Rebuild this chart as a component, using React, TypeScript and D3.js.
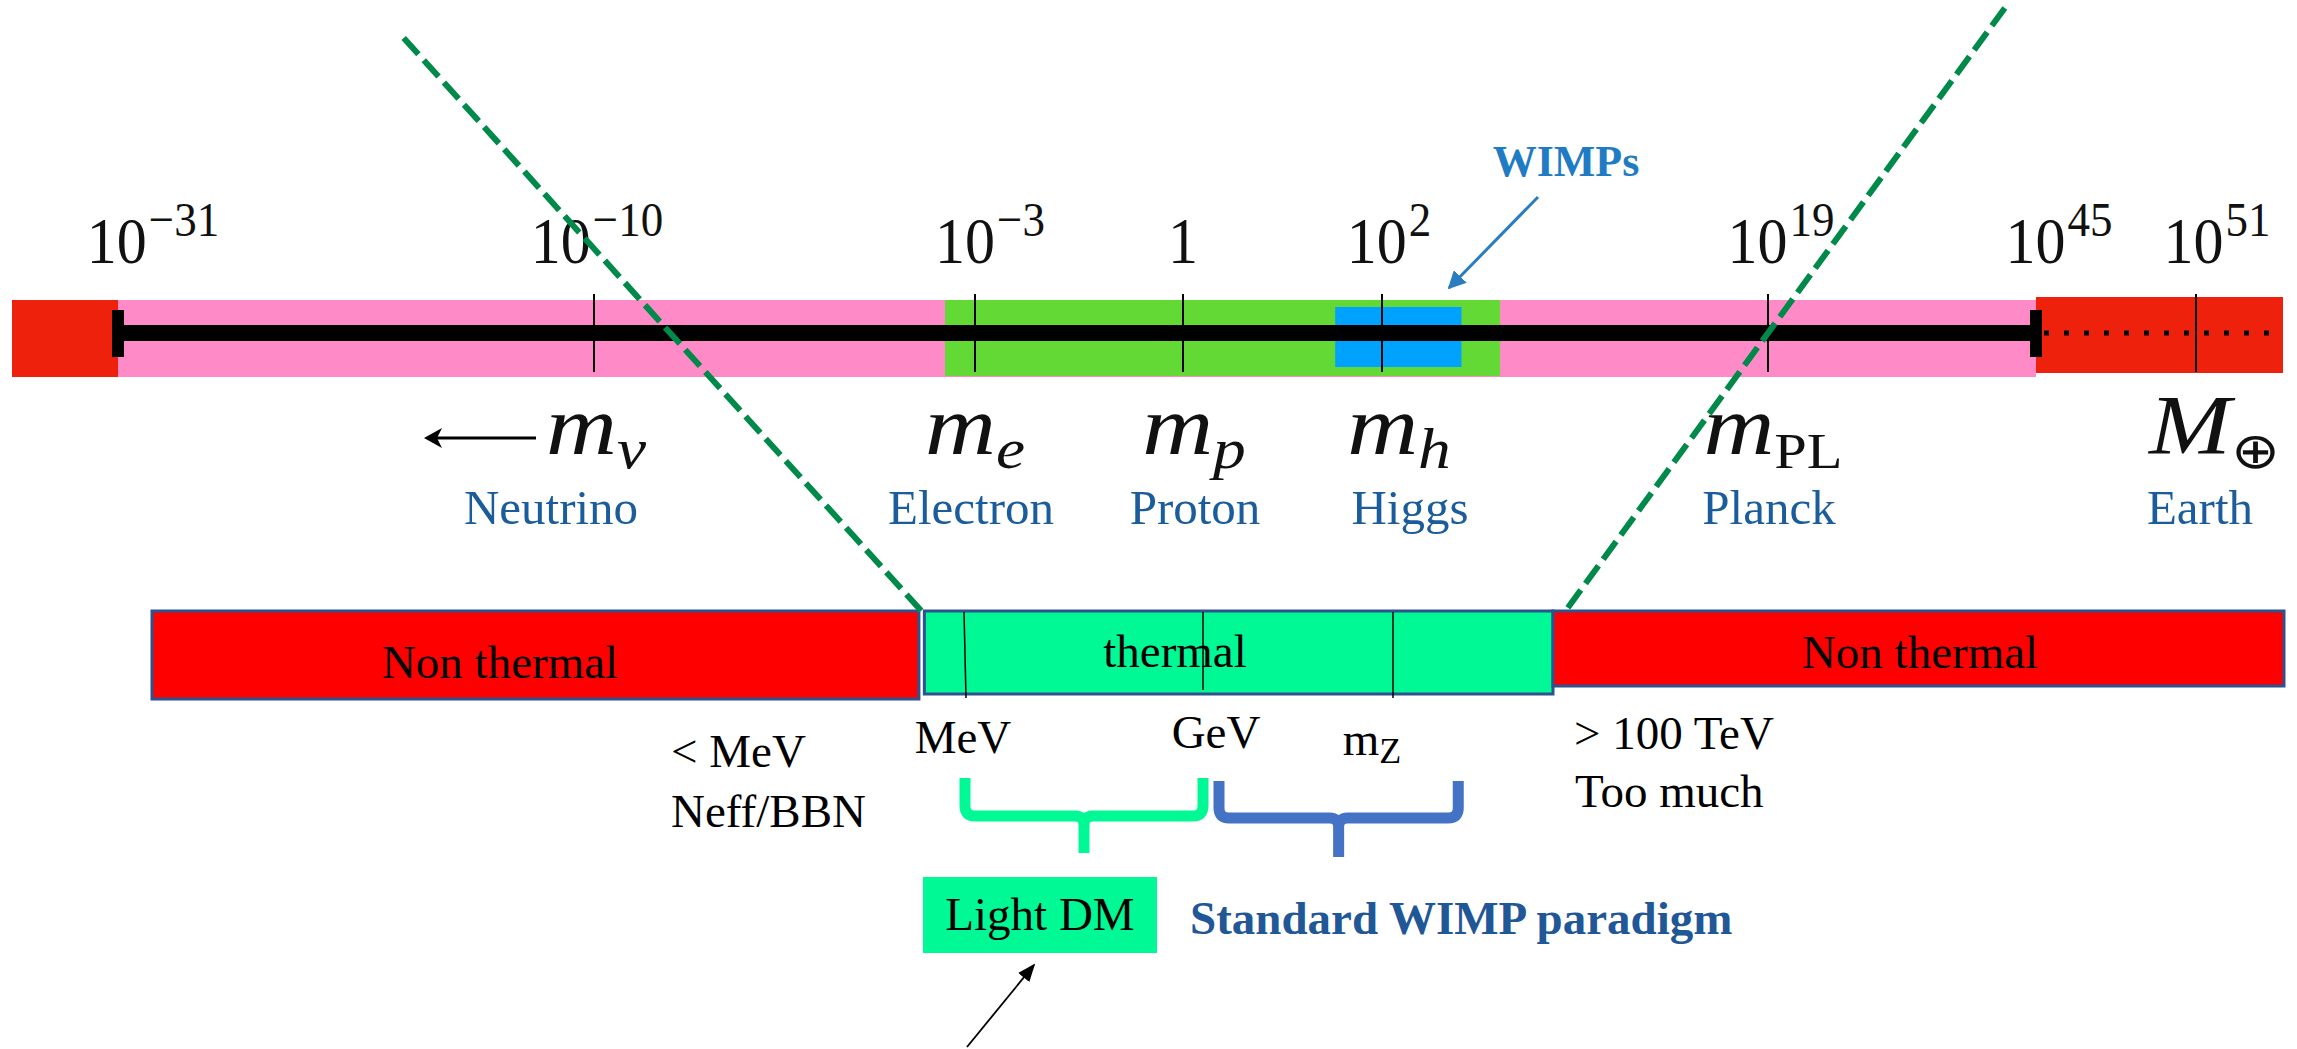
import React from 'react';
import * as d3 from 'd3';

const WIDTH = 2297;
const HEIGHT = 1049;

// ---- Mass line: ticks as powers of ten (GeV) ----
const tickExponents = [-31, -10, -3, 0, 2, 19, 45, 51];
const tickSuperscripts = ['−31', '−10', '−3', '', '2', '19', '45', '51'];
const axisExtent = [-35.7, 54.3];

// Coloured spans along the mass line, [from, to] in exponents
const spanFrom = [-35.7, -31, -3.55, 1.53, 45];
const spanTo = [-31, 45, 7.2, 5.5, 54.3];

// Reference particles
const particleNames = ['Neutrino', 'Electron', 'Proton', 'Higgs', 'Planck', 'Earth'];
const particleSymbols = ['m', 'm', 'm', 'm', 'm', 'M'];
const particleSubscripts = ['ν', 'e', 'p', 'h', 'PL', '⊕'];
const particleExponents = [-10, -3, 0, 2, 19, 51];

// ---- Production regimes (log10 GeV) ----
const regimeLabels = ['Non thermal', 'thermal', 'Non thermal'];
const regimeFrom = [-6, -3.15, 5];
const regimeTo = [-3.17, 5, 10];
const energyMarks = ['MeV', 'GeV', 'm'];
const energyMarkSubs = ['', '', 'Z'];
const energyExponents = [-3, 0, 1.96];
const bracketFrom = [-3, 0.165];
const bracketTo = [0, 3.2];

// ---- layout ----
const TOP_ANCHORS = [12, 118, 594, 975, 1183, 1382, 1768, 2036, 2196, 2283];
const BOTTOM_ANCHORS = [152, 965, 1203, 1393, 1553, 2284];

const topScale = d3
  .scaleLinear()
  .domain([axisExtent[0], ...tickExponents, axisExtent[1]])
  .range(TOP_ANCHORS);
const bottomScale = d3
  .scaleLinear()
  .domain([-6, ...energyExponents, 5, 10])
  .range(BOTTOM_ANCHORS);

const SPAN_STYLE = [
  { fill: '#ee220c', y0: 300, y1: 377 },
  { fill: '#ff8ac8', y0: 300, y1: 377 },
  { fill: '#62d935', y0: 300, y1: 376 },
  { fill: '#00a2ff', y0: 307, y1: 367 },
  { fill: '#ee220c', y0: 297, y1: 373 },
];
const LINE_Y = 333;
const TICK_LABEL_NUDGE = [35, 3, 15, 0, 7, 13, 23, 21];
const PARTICLE_MATH_NUDGE = [2, 0, 11, 17, 5, 18];
const PARTICLE_NAME_NUDGE = [-43, -4, 12, 28, 1, 4];

const REGIME_STYLE = [
  { fill: '#ff0000', y0: 611, y1: 699, labelX: 500, labelY: 678 },
  { fill: '#00f994', y0: 611, y1: 694, labelX: 1175, labelY: 667 },
  { fill: '#ff0000', y0: 611, y1: 686, labelX: 1920, labelY: 668 },
];
const MARK_LINE_END = [698, 690, 698];
const MARK_LABEL_DX = [-2, 13, -21];
const MARK_LABEL_Y = [753, 748, 755];

const SERIF = '"Liberation Serif", "Times New Roman", serif';
const GREEN_DASH = '#008a4a';

function bracePath(x1: number, x2: number, xm: number, yTop: number, yBar: number, yStem: number) {
  const r = 10;
  const r2 = 9;
  return [
    `M${x1},${yTop}`,
    `L${x1},${yBar - r}`,
    `Q${x1},${yBar} ${x1 + r},${yBar}`,
    `L${xm - r2},${yBar}`,
    `Q${xm},${yBar} ${xm},${yBar + r2}`,
    `L${xm},${yStem}`,
    `M${xm},${yBar + r2}`,
    `Q${xm},${yBar} ${xm + r2},${yBar}`,
    `L${x2 - r},${yBar}`,
    `Q${x2},${yBar} ${x2},${yBar - r}`,
    `L${x2},${yTop}`,
  ].join(' ');
}

// Straight line through two points, extended up to a given y
function extendTo(p: [number, number], q: [number, number], yTop: number) {
  const k = (q[0] - p[0]) / (q[1] - p[1]);
  return { x1: p[0] + (yTop - p[1]) * k, y1: yTop, x2: q[0], y2: q[1] };
}

export default function App() {
  const leftZoom = extendTo([topScale(-8.6), LINE_Y], [bottomScale(-3.15) - 3, 611], 38);
  const rightZoom = extendTo([topScale(19), LINE_Y], [bottomScale(5.08), 612], 8);

  const braceColors = ['#00f994', '#4472c4'];
  const braceGeom = [
    { yTop: 778, yBar: 816, yStem: 853 },
    { yTop: 781, yBar: 818, yStem: 857 },
  ];

  return (
    <svg
      width={WIDTH}
      height={HEIGHT}
      viewBox={`0 0 ${WIDTH} ${HEIGHT}`}
      style={{ position: 'absolute', left: 0, top: 0, background: '#ffffff' }}
      fontFamily={SERIF}
    >
      <defs>
        <marker id="headBlue" viewBox="0 0 10 10" refX="9" refY="5" markerWidth="6" markerHeight="6" orient="auto">
          <path d="M0,0 L10,5 L0,10 z" fill="#2a7dc0" />
        </marker>
        <marker id="headBlack" viewBox="0 0 10 10" refX="9" refY="5" markerWidth="10" markerHeight="10" orient="auto">
          <path d="M0,1 L10,5 L0,9 z" fill="#000" />
        </marker>
      </defs>

      {/* coloured spans along the mass line */}
      {spanFrom.map((from, i) => (
        <rect
          key={`span-${i}`}
          x={topScale(from)}
          y={SPAN_STYLE[i].y0}
          width={topScale(spanTo[i]) - topScale(from)}
          height={SPAN_STYLE[i].y1 - SPAN_STYLE[i].y0}
          fill={SPAN_STYLE[i].fill}
        />
      ))}

      {/* mass line: solid between the caps, dotted beyond */}
      <line x1={topScale(-31)} x2={topScale(45)} y1={LINE_Y} y2={LINE_Y} stroke="#000" strokeWidth={16} />
      <line
        x1={topScale(45) + 8}
        x2={topScale(axisExtent[1])}
        y1={LINE_Y}
        y2={LINE_Y}
        stroke="#000"
        strokeWidth={5}
        strokeDasharray="5 15"
      />
      {[-31, 45].map((e) => (
        <rect key={`cap-${e}`} x={topScale(e) - 6} y={310} width={12} height={47} fill="#000" />
      ))}

      {/* ticks and labels */}
      {tickExponents.map((e) =>
        e === -31 || e === 45 ? null : (
          <line key={`tick-${e}`} x1={topScale(e)} x2={topScale(e)} y1={294} y2={372} stroke="#000" strokeWidth={2} />
        )
      )}
      {tickExponents.map((e, i) => (
        <text
          key={`tl-${e}`}
          transform={`translate(${topScale(e) + TICK_LABEL_NUDGE[i]},263) scale(1,1.1)`}
          textAnchor="middle"
          fontSize={60}
          fill="#111"
        >
          {tickSuperscripts[i] === '' ? (
            '1'
          ) : (
            <>
              <tspan>10</tspan>
              <tspan dy={-25} dx={2} fontSize={45}>
                {tickSuperscripts[i]}
              </tspan>
            </>
          )}
        </text>
      ))}

      {/* WIMPs pointer */}
      <text x={1566} y={176} textAnchor="middle" fontSize={44} fontWeight="bold" fill="#1f7cc4">
        WIMPs
      </text>
      <line x1={1538} y1={197} x2={1449} y2={288} stroke="#2a7dc0" strokeWidth={3} markerEnd="url(#headBlue)" />

      {/* particle masses */}
      {particleNames.map((name, i) => {
        const x = topScale(particleExponents[i]);
        const upright = name === 'Planck' || name === 'Earth';
        return (
          <g key={`p-${name}`}>
            <text
              transform={`translate(${x + PARTICLE_MATH_NUDGE[i]},454) scale(1.17,1)`}
              textAnchor="middle"
              fontSize={84}
              fill="#111"
            >
              <tspan fontStyle="italic">{particleSymbols[i]}</tspan>
              <tspan dy={14} fontSize={upright ? 50 : 56} fontStyle={upright ? 'normal' : 'italic'}>
                {particleSubscripts[i]}
              </tspan>
            </text>
            <text x={x + PARTICLE_NAME_NUDGE[i]} y={524} textAnchor="middle" fontSize={49} fill="#1a5c9c">
              {name}
            </text>
          </g>
        );
      })}
      {/* neutrino arrow */}
      <line x1={536} y1={438} x2={430} y2={438} stroke="#000" strokeWidth={3} />
      <path d="M424,438 L442,428 L437,438 L442,448 Z" fill="#000" />

      {/* production regimes */}
      {regimeLabels.map((label, i) => {
        const s = REGIME_STYLE[i];
        return (
          <rect
            key={`reg-${i}`}
            x={bottomScale(regimeFrom[i])}
            y={s.y0}
            width={bottomScale(regimeTo[i]) - bottomScale(regimeFrom[i])}
            height={s.y1 - s.y0}
            fill={s.fill}
            stroke="#2f528f"
            strokeWidth={3}
          />
        );
      })}
      {energyExponents.map((e, i) => (
        <line
          key={`mark-${i}`}
          x1={bottomScale(e) - (i === 0 ? 1 : 0)}
          x2={bottomScale(e) + (i === 0 ? 1 : 0)}
          y1={612}
          y2={MARK_LINE_END[i]}
          stroke="#000"
          strokeWidth={1.5}
        />
      ))}
      {regimeLabels.map((label, i) => (
        <text
          key={`regl-${i}`}
          x={REGIME_STYLE[i].labelX}
          y={REGIME_STYLE[i].labelY}
          textAnchor="middle"
          fontSize={47}
          fill="#000"
        >
          {label}
        </text>
      ))}

      {/* energy marks */}
      {energyMarks.map((m, i) => (
        <text
          key={`ml-${i}`}
          x={bottomScale(energyExponents[i]) + MARK_LABEL_DX[i]}
          y={MARK_LABEL_Y[i]}
          textAnchor="middle"
          fontSize={47}
          fill="#000"
        >
          {m}
          {energyMarkSubs[i] && (
            <tspan dy={8} fontSize={36}>
              {energyMarkSubs[i]}
            </tspan>
          )}
        </text>
      ))}
      <text x={671} y={767} fontSize={47} fill="#000">
        &lt; MeV
      </text>
      <text x={671} y={827} fontSize={47} fill="#000">
        Neff/BBN
      </text>
      <text x={1574} y={749} fontSize={47} fill="#000">
        &gt; 100 TeV
      </text>
      <text x={1575} y={807} fontSize={47} fill="#000">
        Too much
      </text>

      {/* braces */}
      {bracketFrom.map((from, i) => {
        const x1 = bottomScale(from);
        const x2 = bottomScale(bracketTo[i]);
        const g = braceGeom[i];
        return (
          <path
            key={`brace-${i}`}
            d={bracePath(x1, x2, (x1 + x2) / 2, g.yTop, g.yBar, g.yStem)}
            fill="none"
            stroke={braceColors[i]}
            strokeWidth={11}
          />
        );
      })}

      {/* Light DM box and WIMP label */}
      <rect x={923} y={877} width={234} height={76} fill="#00f994" />
      <text x={1040} y={930} textAnchor="middle" fontSize={47} fill="#000">
        Light DM
      </text>
      <text x={1190} y={934} fontSize={47} fontWeight="bold" fill="#1f5797">
        Standard WIMP paradigm
      </text>
      <line x1={967} y1={1047} x2={1034} y2={965} stroke="#000" strokeWidth={1.8} markerEnd="url(#headBlack)" />

      {/* zoom guides */}
      {[leftZoom, rightZoom].map((l, i) => (
        <line
          key={`guide-${i}`}
          x1={l.x1}
          y1={l.y1}
          x2={l.x2}
          y2={l.y2}
          stroke={GREEN_DASH}
          strokeWidth={6}
          strokeDasharray="22 8"
        />
      ))}
    </svg>
  );
}
